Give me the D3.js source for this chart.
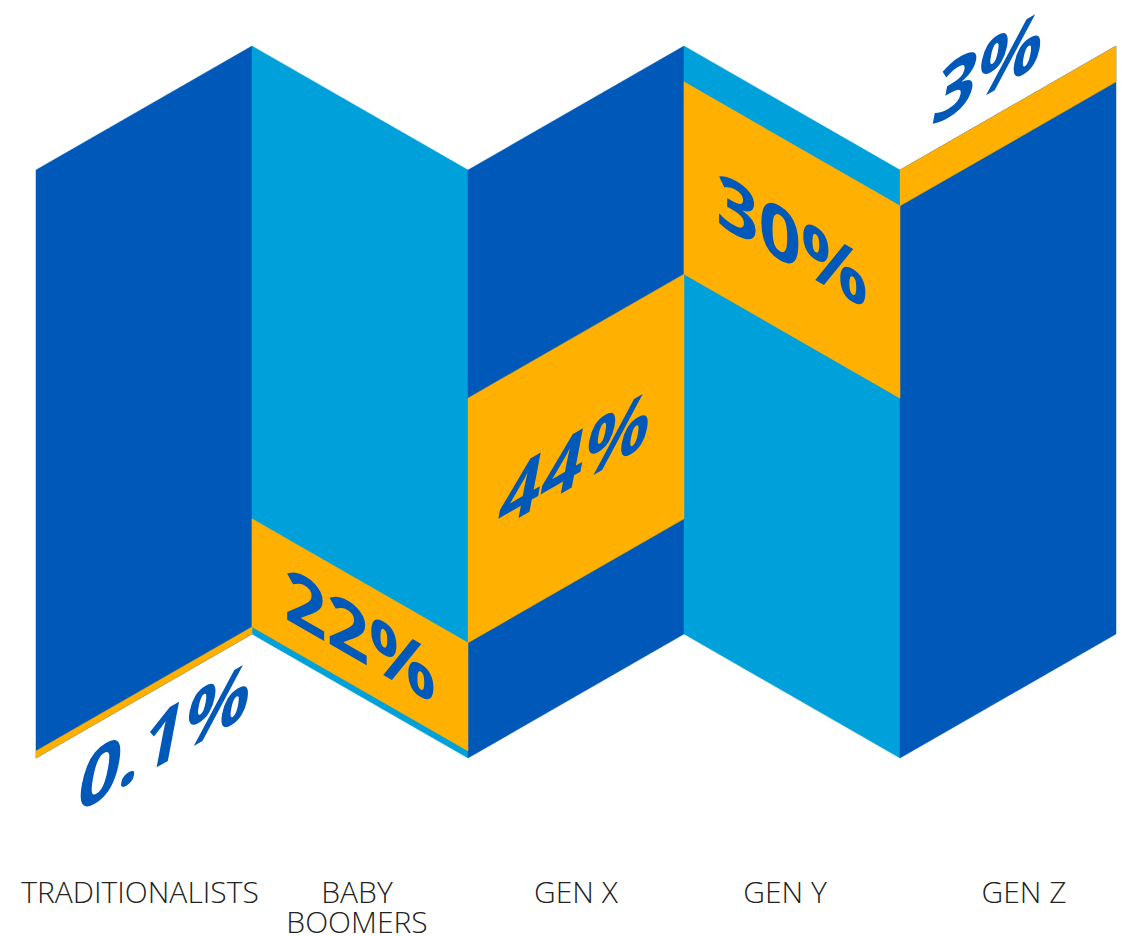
<!DOCTYPE html>
<html>
<head>
<meta charset="utf-8">
<script src="https://cdn.jsdelivr.net/npm/d3@7"></script>
<style>
  html, body { margin: 0; padding: 0; background: #ffffff; }
  svg { display: block; }
</style>
</head>
<body>
<svg id="chart" width="1128" height="936"></svg>
<script>
// ---- data ----
const categories = ["TRADITIONALISTS", "BABY BOOMERS", "GEN X", "GEN Y", "GEN Z"];
const categoryLines = [["TRADITIONALISTS"], ["BABY", "BOOMERS"], ["GEN X"], ["GEN Y"], ["GEN Z"]];
const values = [0.1, 22, 44, 30, 3];
const valueLabels = ["0.1%", "22%", "44%", "30%", "3%"];
// share of the folded strip's height that each orange band covers, as drawn in the picture
const bandShown = [1.2, 18.4, 41.6, 32.7, 6.1];

// ---- style ----
const panelColors = ["#0059B8", "#00A0DB"];
const bandColor = "#FFB000";
const labelColor = "#0059B8";
const textColor = "#222222";

const W = 1128, H = 936;
const left = 36, right = 1116;
const lowY = 758;          // lower corner of the zigzag
const stripH = 588;        // strip height in px
const fold = 124;          // vertical rise over one panel
const catDx = [-4, -3, 0, -7, 16]; // small horizontal nudges of the category captions

const svg = d3.select("#chart");

const x = d3.scaleBand().domain(categories).range([left, right]).padding(0);
const h = d3.scaleLinear().domain([0, 100]).range([0, stripH]);
const bw = x.bandwidth();
const skewDeg = Math.atan(fold / bw) * 180 / Math.PI;

function baseY(i, t) {
  return i % 2 === 0 ? lowY - fold * t : lowY - fold * (1 - t);
}
function pt(i, t, v) {
  return [x(categories[i]) + t * bw, baseY(i, t) - h(v)];
}
function quad(i, v0, v1) {
  return [pt(i, 0, v0), pt(i, 1, v0), pt(i, 1, v1), pt(i, 0, v1)];
}
const line = d3.line();

// cumulative band edges
const cum = [];
let acc = 0;
bandShown.forEach(v => { cum.push([acc, acc + v]); acc += v; });

const rows = categories.map((c, i) => ({ c, i, s: cum[i][0], e: cum[i][1], label: valueLabels[i], value: values[i] }));

// panels
svg.append("g").selectAll("path").data(rows).join("path")
  .attr("d", d => line(quad(d.i, 0, 100)) + "Z")
  .attr("fill", d => panelColors[d.i % 2])
  .attr("stroke", d => panelColors[d.i % 2])
  .attr("stroke-width", 0.5);

// orange bands
svg.append("g").selectAll("path").data(rows).join("path")
  .attr("d", d => line(quad(d.i, d.s, d.e)) + "Z")
  .attr("fill", bandColor)
  .attr("stroke", bandColor)
  .attr("stroke-width", 0.5);

// value labels
const labelG = svg.append("g");
rows.forEach(d => {
  let t = 0.5, pos;
  const inside = d.e - d.s > 10;
  if (inside) {
    pos = pt(d.i, t, (d.s + d.e) / 2);
  } else if (d.s < 50) {
    t = 0.6; pos = pt(d.i, t, 0); pos[1] += 52;
  } else {
    t = 0.415; pos = pt(d.i, t, 100); pos[1] -= 52;
  }
  const rising = d.i % 2 === 0;
  labelG.append("text")
    .attr("transform", `translate(${pos[0]},${pos[1]}) skewY(${rising ? -skewDeg : skewDeg})` + (rising ? " skewX(-12)" : ""))
    .attr("text-anchor", "middle")
    .attr("dy", "0.36em")
    .attr("font-family", "'Open Sans', 'Noto Sans', sans-serif")
    .attr("font-weight", 700)
    .attr("font-size", 74)
    .attr("fill", labelColor)
    .text(d.label);
});

// category labels
const catG = svg.append("g");
rows.forEach(d => {
  const cx = x(d.c) + bw / 2 + catDx[d.i];
  const t = catG.append("text")
    .attr("x", cx)
    .attr("y", 903)
    .attr("text-anchor", "middle")
    .attr("font-family", "'Open Sans', 'Noto Sans', sans-serif")
    .attr("font-weight", 300)
    .attr("font-size", 30)
    .attr("fill", textColor);
  categoryLines[d.i].forEach((ln, k) => {
    t.append("tspan").attr("x", cx).attr("dy", k === 0 ? 0 : 30).text(ln);
  });
});
</script>
</body>
</html>
